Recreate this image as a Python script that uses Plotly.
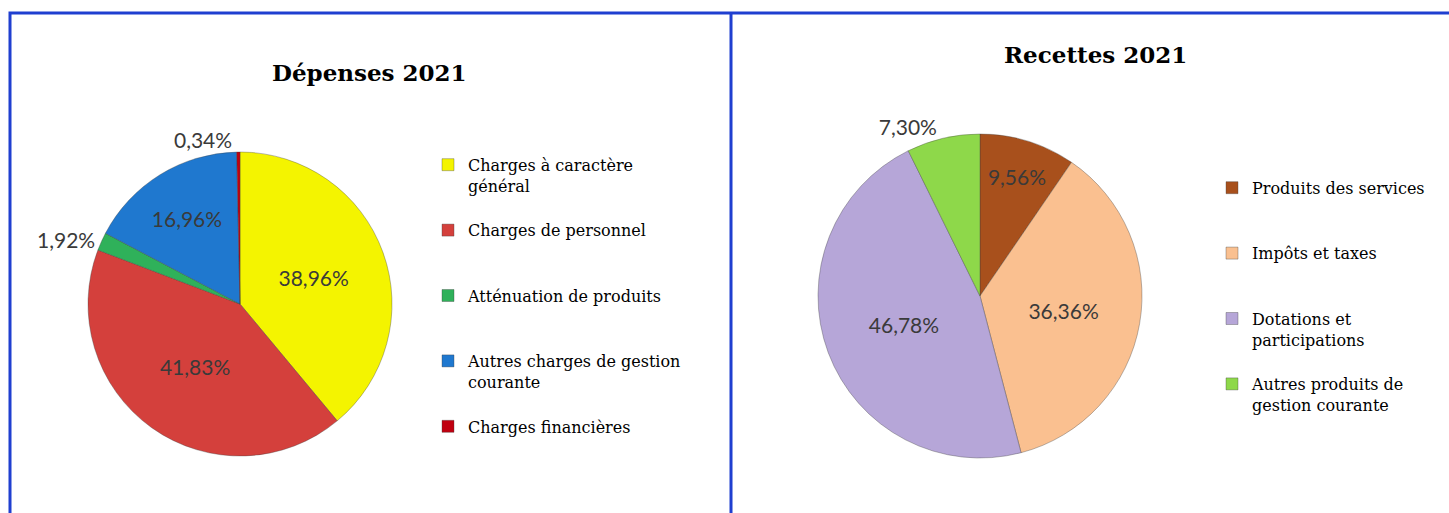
import plotly.graph_objects as go

# ---- data ----
dep_legend = ["Charges à caractère<br>général", "Charges de personnel",
              "Atténuation de produits", "Autres charges de gestion<br>courante",
              "Charges financières"]
dep_values = [38.96, 41.83, 1.92, 16.96, 0.34]
dep_colors = ["#F4F400", "#D4403C", "#2FB15A", "#1F78CF", "#C00010"]
dep_textpos = ["inside", "inside", "outside", "inside", "outside"]

rec_legend = ["Produits des services", "Impôts et taxes",
              "Dotations et<br>participations", "Autres produits de<br>gestion courante"]
rec_values = [9.56, 36.36, 46.78, 7.30]
rec_colors = ["#A8501C", "#FAC090", "#B6A6D8", "#8ED84A"]
rec_textpos = ["inside", "inside", "inside", "outside"]

titles = ["Dépenses 2021", "Recettes 2021"]

W, H = 1449, 513


def fmt(v):
    return f"{v:.2f}".replace(".", ",") + "%"


def pad3(lbl):
    # pad every legend entry to three lines so entries are evenly spaced
    n = lbl.count("<br>") + 1
    out = "\u00a0<br>" + lbl
    if n == 1:
        out += "<br>\u00a0"
    return out


def px_domain(x0, x1, y0, y1):
    return dict(x=[x0 / W, x1 / W], y=[1 - y1 / H, 1 - y0 / H])


pie_font = dict(family="Lato", size=21, color="#3a3a3a")

fig = go.Figure()
fig.add_trace(go.Pie(
    labels=[pad3(l) for l in dep_legend], values=dep_values,
    text=[fmt(v) for v in dep_values], texttemplate="%{text}",
    textposition=dep_textpos, sort=False, direction="clockwise", rotation=0,
    marker=dict(colors=dep_colors, line=dict(color="rgba(60,60,60,0.35)", width=1)),
    textfont=pie_font, insidetextorientation="horizontal",
    domain=px_domain(88, 392, 152, 456), legend="legend", hoverinfo="skip",
))
fig.add_trace(go.Pie(
    labels=[pad3(l) for l in rec_legend], values=rec_values,
    text=[fmt(v) for v in rec_values], texttemplate="%{text}",
    textposition=rec_textpos, sort=False, direction="clockwise", rotation=0,
    marker=dict(colors=rec_colors, line=dict(color="rgba(60,60,60,0.35)", width=1)),
    textfont=pie_font, insidetextorientation="horizontal",
    domain=px_domain(818, 1142, 133, 459), legend="legend2", hoverinfo="skip",
))

legend_font = dict(family="DejaVu Serif", size=16, color="#000000")
title_font = dict(family="DejaVu Serif", size=23, color="#000000")
fig.update_layout(
    width=W, height=H, margin=dict(l=0, r=0, t=0, b=0),
    paper_bgcolor="white", plot_bgcolor="white",
    showlegend=True,
    legend=dict(x=428 / W, y=1 - 127 / H, xanchor="left", yanchor="top",
                font=legend_font, bgcolor="rgba(0,0,0,0)", itemclick=False),
    legend2=dict(x=1212 / W, y=1 - 150 / H, xanchor="left", yanchor="top",
                 font=legend_font, bgcolor="rgba(0,0,0,0)", itemclick=False),
    annotations=[
        dict(text=f"<b>{titles[0]}</b>", x=370 / W, y=1 - 72 / H, xref="paper", yref="paper",
             xanchor="center", yanchor="middle", showarrow=False, font=title_font),
        dict(text=f"<b>{titles[1]}</b>", x=1095 / W, y=1 - 55 / H, xref="paper", yref="paper",
             xanchor="center", yanchor="middle", showarrow=False, font=title_font),
    ],
    shapes=[
        dict(type="rect", xref="paper", yref="paper", x0=10 / W, x1=1.05, y0=-0.05, y1=1 - 13 / H,
             line=dict(color="#1F3FD0", width=3)),
        dict(type="line", xref="paper", yref="paper", x0=731 / W, x1=731 / W, y0=-0.05, y1=1 - 13 / H,
             line=dict(color="#1F3FD0", width=3)),
    ],
)

fig.write_html("out.html", config={"displayModeBar": False},
               post_script="document.body.style.margin='0';document.body.style.overflow='hidden';")
